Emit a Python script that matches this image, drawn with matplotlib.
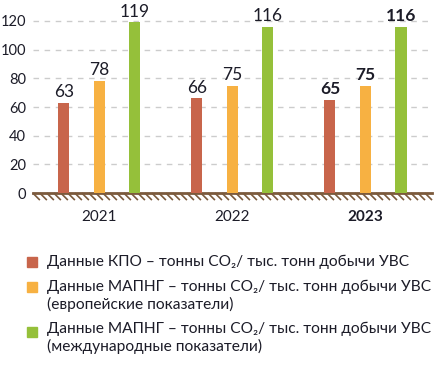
import numpy as np
import matplotlib.pyplot as plt
from matplotlib.patches import Rectangle

plt.rcParams['font.family'] = ['Lato', 'DejaVu Sans']

# данные
years = ['2021', '2022', '2023']
kpo = [63, 66, 65]
mapng_eu = [78, 75, 75]
mapng_int = [119, 116, 116]
labels = ['Данные КПО – тонны CO\u2082/ тыс. тонн добычи УВС',
          'Данные МАПНГ – тонны CO\u2082/ тыс. тонн добычи УВС\n(европейские показатели)',
          'Данные МАПНГ – тонны CO\u2082/ тыс. тонн добычи УВС\n(международные показатели)']
colors = ['#C8654B', '#F7B142', '#95C03A']
text_col = '#1c1c28'
brown = '#7B5A3C'

fig = plt.figure(figsize=(4.44, 3.65), dpi=100)
ax = fig.add_axes([0.074, 0.471, 0.899, 0.499])

x = np.arange(len(years))
off = 0.267
w = 0.083
for i, (vals, c) in enumerate(zip([kpo, mapng_eu, mapng_int], colors)):
    xs = x + (i - 1) * off
    ax.bar(xs, vals, width=w, color=c, zorder=3)
    for j, (xx, v) in enumerate(zip(xs, vals)):
        ax.text(xx, v + 2, str(v), ha='center', va='bottom', fontsize=12.5,
                color=text_col, fontweight='bold' if j == 2 else 'normal')

ax.set_xlim(-0.5, 2.5)
ax.set_ylim(0, 127)
ax.set_yticks(range(0, 121, 20))
ax.yaxis.grid(True, linestyle=(0, (4, 4)), color='#cccccc', linewidth=1)
ax.set_axisbelow(True)
for s in ['top', 'right', 'left']:
    ax.spines[s].set_visible(False)
ax.spines['bottom'].set_color(brown)
ax.spines['bottom'].set_linewidth(2)
ax.tick_params(axis='y', length=0, labelsize=10.5, labelcolor=text_col, pad=5)
ax.tick_params(axis='x', length=0, labelsize=11, labelcolor=text_col, pad=12)
ax.set_xticks(x)
ax.set_xticklabels(years)
ax.get_xticklabels()[2].set_fontweight('bold')

# штриховка "земли" под осью (шаг ~7 px)
step = 7 / 133
dy = 7 / 182
for x0 in np.arange(-0.5, 2.5 - step * 0.5, step):
    ax.plot([x0, x0 + step], [0, -dy], transform=ax.get_xaxis_transform(),
            color=brown, lw=1.2, clip_on=False, solid_capstyle='butt')

# легенда
ys = [262, 287, 332]
ty = [262, 296, 338]
for c, lab, y0, t0 in zip(colors, labels, ys, ty):
    fig.patches.append(Rectangle((27 / 444, 1 - (y0 + 5) / 365), 10 / 444, 10 / 365,
                                 transform=fig.transFigure, color=c))
    fig.text(47 / 444, 1 - t0 / 365, lab, ha='left', va='center', fontsize=11.2,
             color=text_col, linespacing=1.2)

fig.savefig('out.png', dpi=100)
